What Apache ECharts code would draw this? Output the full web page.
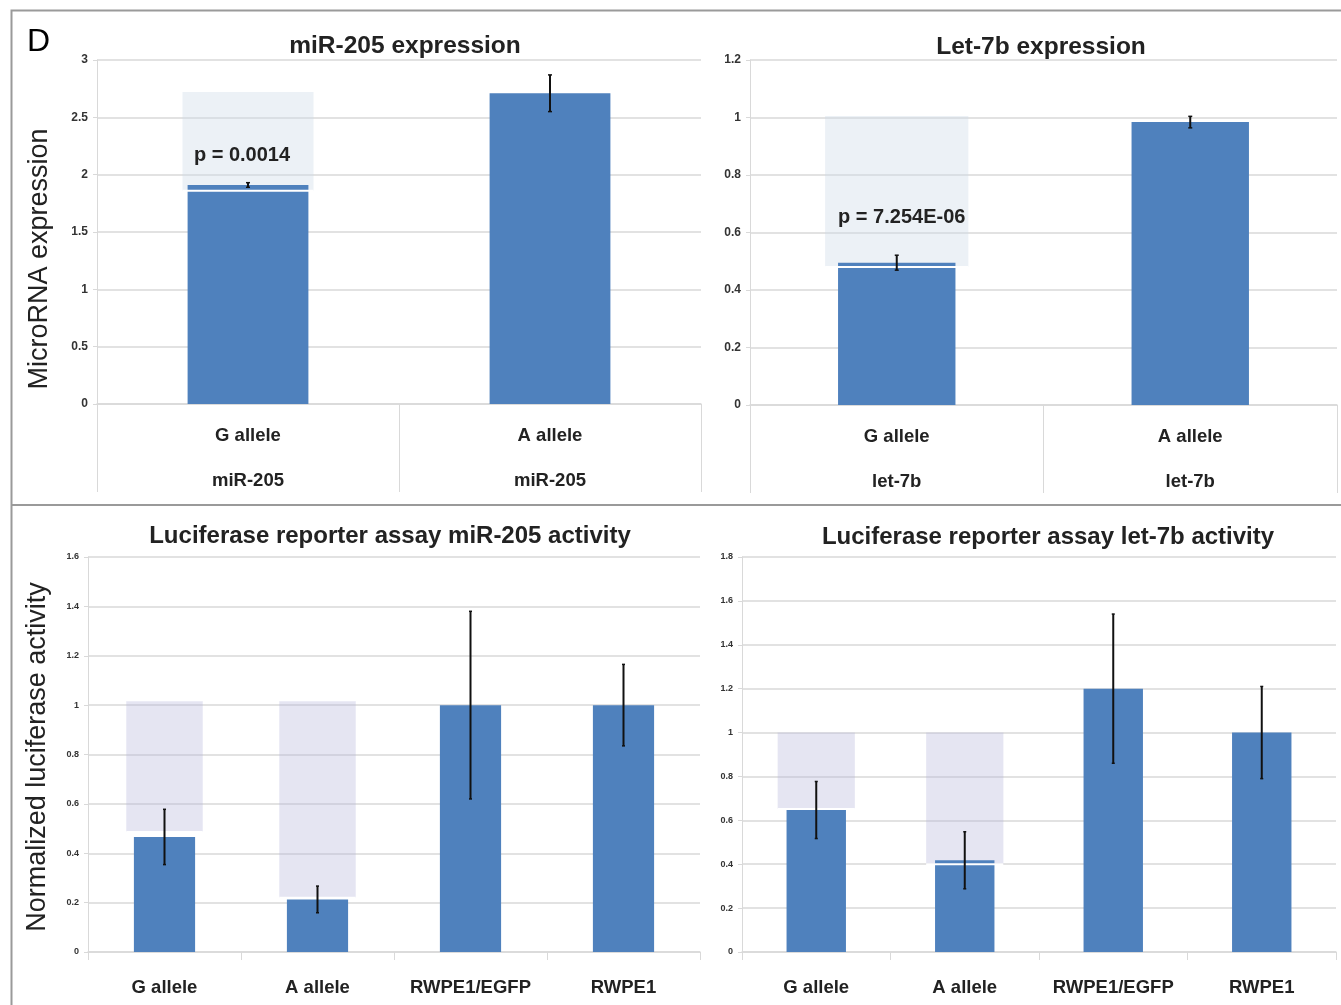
<!DOCTYPE html>
<html>
<head>
<meta charset="utf-8">
<script src="https://cdn.jsdelivr.net/npm/echarts@6/dist/echarts.min.js"></script>
<style>
html,body{margin:0;padding:0;background:#fff;}
#chart{width:1341px;height:1005px;}
</style>
</head>
<body>
<div id="chart"></div>
<script>
// ---------- data ----------
const topLeftCats = ['G allele', 'A allele'];
const topLeftGroups = ['miR-205', 'miR-205'];
const topLeftValues = [1.91, 2.71];
const topLeftErrors = [0.02, 0.16];
const topLeftPBoxLow = [1.86];
const topLeftPBoxHigh = [2.72];
const topLeftPText = 'p = 0.0014';

const topRightCats = ['G allele', 'A allele'];
const topRightGroups = ['let-7b', 'let-7b'];
const topRightValues = [0.495, 0.984];
const topRightErrors = [0.026, 0.02];
const topRightPBoxLow = [0.48];
const topRightPBoxHigh = [1.005];
const topRightPText = 'p = 7.254E-06';

const bottomCats = ['G allele', 'A allele', 'RWPE1/EGFP', 'RWPE1'];
const bottomLeftValues = [0.466, 0.213, 1.0, 1.0];
const bottomLeftErrors = [0.112, 0.054, 0.38, 0.165];
const bottomLeftBoxLow = [0.486, 0.22];
const bottomLeftBoxHigh = [1.016, 1.016];

const bottomRightValues = [0.647, 0.418, 1.2, 1.0];
const bottomRightErrors = [0.13, 0.13, 0.34, 0.21];
const bottomRightBoxLow = [0.652, 0.40];
const bottomRightBoxHigh = [1.0, 1.0];

const titles = ['miR-205 expression', 'Let-7b expression',
  'Luciferase reporter assay miR-205 activity', 'Luciferase reporter assay let-7b activity'];
const yTitles = ['MicroRNA expression', 'Normalized luciferase activity'];

// ---------- style ----------
const BAR = '#4f81bd';
const GRID = '#d9d9d9';
const SANS = '"Liberation Sans", Arial, sans-serif';

const chart = echarts.init(document.getElementById('chart'), null, {renderer: 'canvas'});

function errSeries(idx, values, errors, cap) {
  return {
    type: 'custom', xAxisIndex: idx, yAxisIndex: idx, z: 4, silent: true,
    data: values.map((v, i) => [i, v, errors[i]]),
    renderItem: function (params, api) {
      const i = api.value(0), v = api.value(1), e = api.value(2);
      const t = api.coord([i, v + e]);
      const b = api.coord([i, v - e]);
      return {
        type: 'group',
        children: [
          {type: 'line', shape: {x1: t[0], y1: t[1], x2: b[0], y2: b[1]}, style: {stroke: '#111', lineWidth: 2}},
          {type: 'line', shape: {x1: t[0] - cap, y1: t[1], x2: t[0] + cap, y2: t[1]}, style: {stroke: '#111', lineWidth: 1.5}},
          {type: 'line', shape: {x1: b[0] - cap, y1: b[1], x2: b[0] + cap, y2: b[1]}, style: {stroke: '#111', lineWidth: 1.5}}
        ]
      };
    }
  };
}

function boxFill(idx, lows, highs, ratio, fill) {
  return {
    type: 'custom', xAxisIndex: idx, yAxisIndex: idx, z: 1, silent: true,
    data: lows.map((lo, i) => [i, lo, highs[i]]),
    renderItem: function (params, api) {
      const i = api.value(0);
      const w = api.size([1, 0])[0] * ratio;
      const hi = api.coord([i, api.value(2)]);
      const lo = api.coord([i, api.value(1)]);
      return {type: 'rect', shape: {x: hi[0] - w / 2, y: hi[1], width: w, height: lo[1] - hi[1]}, style: {fill: fill}};
    }
  };
}

function boxEdge(idx, lows, highs, ratio, text, textFrac, dx) {
  return {
    type: 'custom', xAxisIndex: idx, yAxisIndex: idx, z: 3, silent: true,
    data: lows.map((lo, i) => [i, lo, highs[i]]),
    renderItem: function (params, api) {
      const i = api.value(0);
      const w = api.size([1, 0])[0] * ratio;
      const l = api.value(1), h = api.value(2);
      const lo = api.coord([i, l]);
      const children = [
        {type: 'line', shape: {x1: lo[0] - w / 2, y1: lo[1], x2: lo[0] + w / 2, y2: lo[1]}, style: {stroke: '#fff', lineWidth: 2}}
      ];
      if (text) {
        const tp = api.coord([i, l + (h - l) * textFrac]);
        children.push({type: 'text', x: tp[0] + dx, y: tp[1],
          style: {text: text, font: 'bold 20px ' + SANS, fill: '#222', align: 'center', verticalAlign: 'middle'}});
      }
      return {type: 'group', children: children};
    }
  };
}

function barSeries(idx, values) {
  return {type: 'bar', xAxisIndex: idx, yAxisIndex: idx, z: 2, barWidth: '40%',
    itemStyle: {color: BAR}, data: values, silent: true};
}

const topLabel = (groups) => ({
  interval: 0, margin: 9,
  formatter: (v, i) => '{a|' + v + '}\n{a|' + groups[i] + '}',
  rich: {a: {fontFamily: SANS, fontSize: 18.5, fontWeight: 'bold', color: '#222', lineHeight: 45}}
});

function yAxis(idx, max, interval, fontSize) {
  return {
    type: 'value', gridIndex: idx, min: 0, max: max, interval: interval,
    axisLine: {show: true, lineStyle: {color: GRID, width: 1}},
    axisTick: {show: true, length: 4, lineStyle: {color: GRID}},
    axisLabel: {fontFamily: SANS, fontSize: fontSize, fontWeight: 'bold', color: '#333', margin: 9},
    splitLine: {lineStyle: {color: GRID, width: 1.5}}
  };
}

const option = {
  backgroundColor: '#fff',
  animation: false,
  title: [
    {text: titles[0], left: 400, top: 29, textAlign: 'center', textStyle: {fontFamily: SANS, fontSize: 24.5, fontWeight: 'bold', color: '#222'}},
    {text: titles[1], left: 1036, top: 30, textAlign: 'center', textStyle: {fontFamily: SANS, fontSize: 24.5, fontWeight: 'bold', color: '#222'}},
    {text: titles[2], left: 385, top: 519, textAlign: 'center', textStyle: {fontFamily: SANS, fontSize: 24, fontWeight: 'bold', color: '#222'}},
    {text: titles[3], left: 1043, top: 520, textAlign: 'center', textStyle: {fontFamily: SANS, fontSize: 24, fontWeight: 'bold', color: '#222'}}
  ],
  graphic: [
    {type: 'polyline', shape: {points: [[1341, 10.5], [11.5, 10.5], [11.5, 1005]]}, style: {stroke: '#9a9a9a', lineWidth: 2, fill: null}},
    {type: 'line', shape: {x1: 11, y1: 505, x2: 1341, y2: 505}, style: {stroke: '#9a9a9a', lineWidth: 2}},
    {type: 'text', x: 27, y: 26, style: {text: 'D', font: '32px ' + SANS, fill: '#000'}},
    {type: 'text', x: 40, y: 259, rotation: Math.PI / 2,
      style: {text: yTitles[0], font: '27px ' + SANS, fill: '#222', align: 'center', verticalAlign: 'middle'}},
    {type: 'text', x: 38, y: 757, rotation: Math.PI / 2,
      style: {text: yTitles[1], font: '27px ' + SANS, fill: '#222', align: 'center', verticalAlign: 'middle'}}
  ],
  grid: [
    {left: 97, top: 60, width: 604, height: 344},
    {left: 750, top: 60, width: 587, height: 345},
    {left: 88, top: 557, width: 612, height: 395},
    {left: 742, top: 557, width: 594, height: 395}
  ],
  xAxis: [
    {type: 'category', gridIndex: 0, data: topLeftCats,
      axisLine: {lineStyle: {color: GRID, width: 1.5}},
      axisTick: {show: true, length: 88, lineStyle: {color: GRID}},
      axisLabel: topLabel(topLeftGroups)},
    {type: 'category', gridIndex: 1, data: topRightCats,
      axisLine: {lineStyle: {color: GRID, width: 1.5}},
      axisTick: {show: true, length: 88, lineStyle: {color: GRID}},
      axisLabel: topLabel(topRightGroups)},
    {type: 'category', gridIndex: 2, data: bottomCats,
      axisLine: {lineStyle: {color: GRID, width: 1.5}},
      axisTick: {show: true, length: 8, lineStyle: {color: GRID}},
      axisLabel: {interval: 0, margin: 26, fontFamily: SANS, fontSize: 18.5, fontWeight: 'bold', color: '#222'}},
    {type: 'category', gridIndex: 3, data: bottomCats,
      axisLine: {lineStyle: {color: GRID, width: 1.5}},
      axisTick: {show: true, length: 8, lineStyle: {color: GRID}},
      axisLabel: {interval: 0, margin: 26, fontFamily: SANS, fontSize: 18.5, fontWeight: 'bold', color: '#222'}}
  ],
  yAxis: [
    yAxis(0, 3, 0.5, 12),
    yAxis(1, 1.2, 0.2, 12),
    yAxis(2, 1.6, 0.2, 9),
    yAxis(3, 1.8, 0.2, 9)
  ],
  series: [
    boxFill(0, topLeftPBoxLow, topLeftPBoxHigh, 0.434, 'rgba(205,218,232,0.38)'),
    barSeries(0, topLeftValues),
    boxEdge(0, topLeftPBoxLow, topLeftPBoxHigh, 0.434, topLeftPText, 0.36, -6),
    errSeries(0, topLeftValues, topLeftErrors, 2),

    boxFill(1, topRightPBoxLow, topRightPBoxHigh, 0.488, 'rgba(205,218,232,0.38)'),
    barSeries(1, topRightValues),
    boxEdge(1, topRightPBoxLow, topRightPBoxHigh, 0.488, topRightPText, 0.33, 5),
    errSeries(1, topRightValues, topRightErrors, 2),

    boxFill(2, bottomLeftBoxLow, bottomLeftBoxHigh, 0.5, 'rgba(180,180,218,0.35)'),
    barSeries(2, bottomLeftValues),
    boxEdge(2, bottomLeftBoxLow, bottomLeftBoxHigh, 0.5, '', 0, 0),
    errSeries(2, bottomLeftValues, bottomLeftErrors, 1.5),

    boxFill(3, bottomRightBoxLow, bottomRightBoxHigh, 0.52, 'rgba(180,180,218,0.35)'),
    barSeries(3, bottomRightValues),
    boxEdge(3, bottomRightBoxLow, bottomRightBoxHigh, 0.52, '', 0, 0),
    errSeries(3, bottomRightValues, bottomRightErrors, 1.5)
  ]
};
chart.setOption(option);
</script>
</body>
</html>
